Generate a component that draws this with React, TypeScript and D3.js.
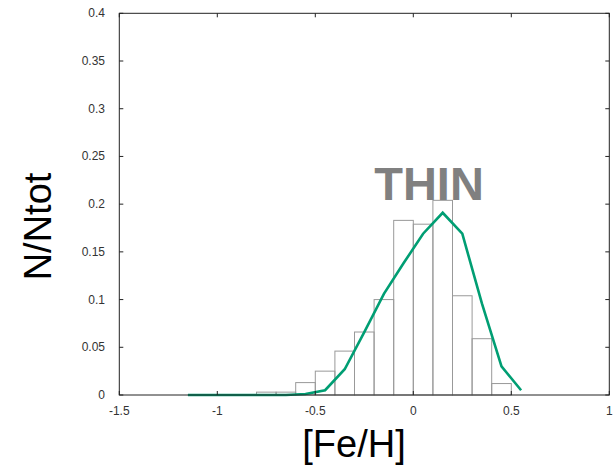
import React from "react";
import * as d3 from "d3";

const binEdgesStart = [-0.8, -0.7, -0.6, -0.5, -0.4, -0.3, -0.2, -0.1, 0.0, 0.1, 0.2, 0.3, 0.4];
const binValues = [0.003, 0.003, 0.013, 0.025, 0.046, 0.066, 0.1, 0.183, 0.179, 0.204, 0.104, 0.059, 0.012];
const binWidth = 0.1;

const lineX = [-1.15, -1.05, -0.95, -0.85, -0.75, -0.65, -0.55, -0.45, -0.35, -0.25, -0.15, -0.05, 0.05, 0.15, 0.25, 0.35, 0.45, 0.55];
const lineY = [0, 0, 0, 0, 0, 0, 0.001, 0.005, 0.027, 0.066, 0.106, 0.138, 0.169, 0.191, 0.169, 0.096, 0.03, 0.005];

const xTicks = [-1.5, -1, -0.5, 0, 0.5, 1];
const xTickLabels = ["-1.5", "-1", "-0.5", "0", "0.5", "1"];
const yTicks = [0, 0.05, 0.1, 0.15, 0.2, 0.25, 0.3, 0.35, 0.4];
const yTickLabels = ["0", "0.05", "0.1", "0.15", "0.2", "0.25", "0.3", "0.35", "0.4"];

export default function App() {
  const W = 615, H = 467;
  const left = 119.3, right = 609.3, top = 13.3, bottom = 395;
  const x = d3.scaleLinear().domain([-1.5, 1]).range([left, right]);
  const y = d3.scaleLinear().domain([0, 0.4]).range([bottom, top]);
  const line = d3.line<number>().x((_, i) => x(lineX[i])).y((d) => y(d));
  const tick = 4;
  return (
    <svg width={W} height={H} style={{ position: "absolute", left: 0, top: 0 }} fontFamily="Liberation Sans, Arial, sans-serif">
      <rect x={0} y={0} width={W} height={H} fill="#fff" />
      {binValues.map((v, i) => (
        <rect key={i} x={x(binEdgesStart[i])} y={y(v)} width={x(binEdgesStart[i] + binWidth) - x(binEdgesStart[i])} height={y(0) - y(v)} fill="none" stroke="#999" strokeWidth={1} />
      ))}
      <text x={429} y={200} textAnchor="middle" fontSize={47} fontWeight="bold" fill="#808080">THIN</text>
      <path d={line(lineY) || ""} fill="none" stroke="#009e73" strokeWidth={2.6} strokeLinejoin="miter" />
      <rect x={left} y={top} width={right - left} height={bottom - top} fill="none" stroke="#222" strokeWidth={1} />
      {xTicks.map((t, i) => (
        <g key={"x" + i}>
          <line x1={x(t)} x2={x(t)} y1={bottom} y2={bottom - tick} stroke="#222" />
          <line x1={x(t)} x2={x(t)} y1={top} y2={top + tick} stroke="#222" />
          <text x={x(t)} y={415} textAnchor="middle" fontSize={12} fill="#333">{xTickLabels[i]}</text>
        </g>
      ))}
      {yTicks.map((t, i) => (
        <g key={"y" + i}>
          <line x1={left} x2={left + tick} y1={y(t)} y2={y(t)} stroke="#222" />
          <line x1={right} x2={right - tick} y1={y(t)} y2={y(t)} stroke="#222" />
          <text x={105} y={y(t) + 4} textAnchor="end" fontSize={12} fill="#333">{yTickLabels[i]}</text>
        </g>
      ))}
      <text x={354} y={457} textAnchor="middle" fontSize={38} fill="#000">[Fe/H]</text>
      <text transform="translate(51,226.5) rotate(-90)" textAnchor="middle" fontSize={38} fill="#000">N/Ntot</text>
    </svg>
  );
}
